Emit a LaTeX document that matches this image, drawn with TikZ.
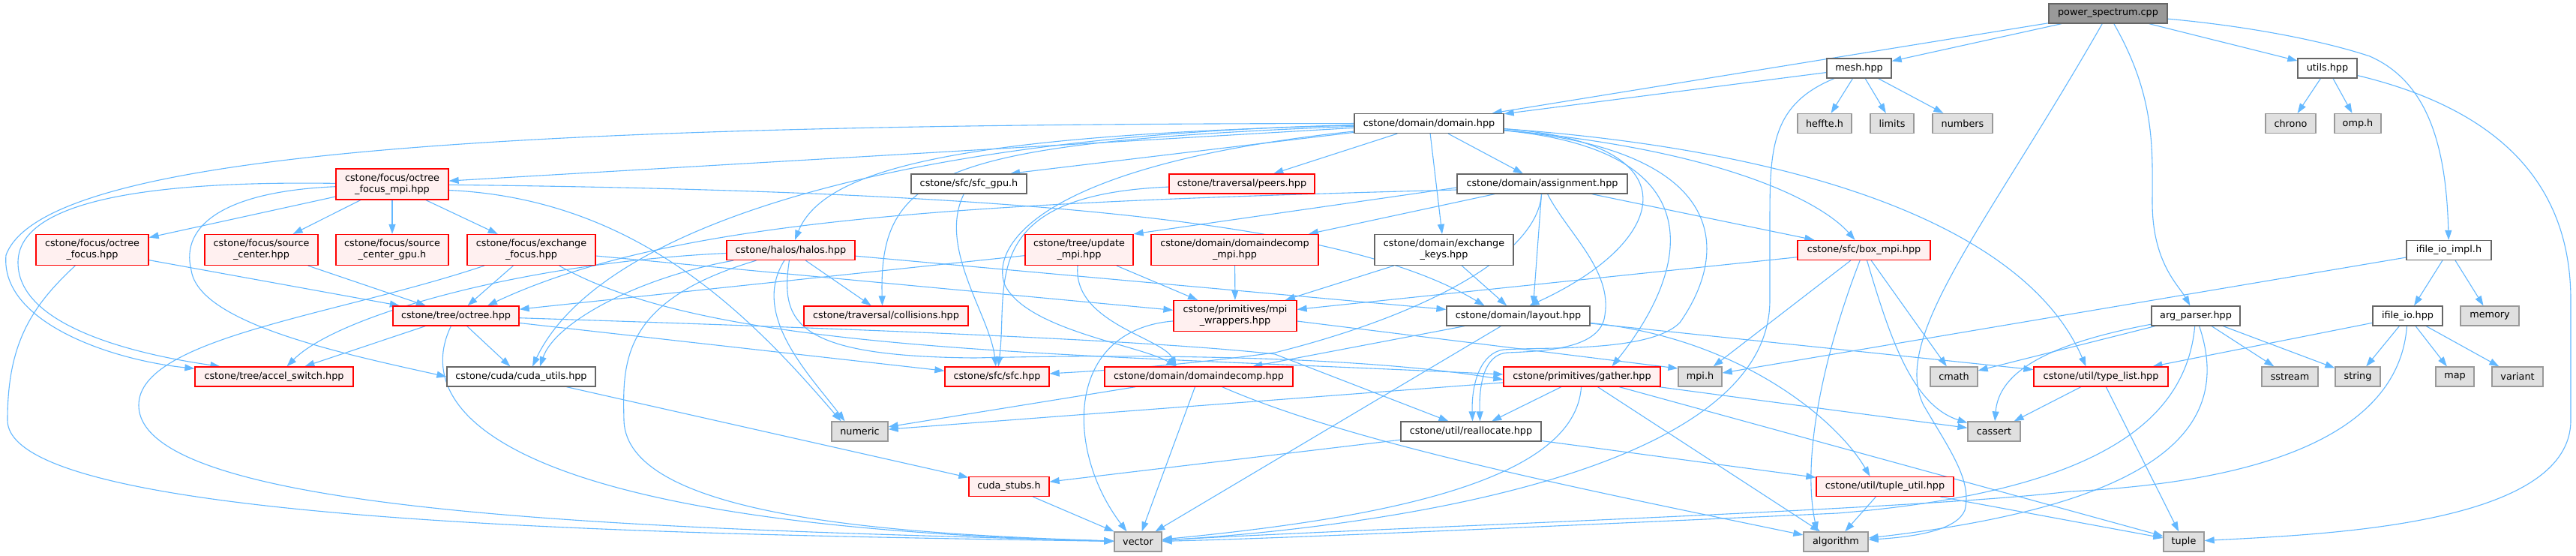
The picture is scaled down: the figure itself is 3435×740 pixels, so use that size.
\documentclass[tikz,border=0pt]{standalone}
\usepackage{fontspec}
\setmainfont{DejaVu Sans}
\usetikzlibrary{arrows.meta}
\definecolor{edgeblue}{HTML}{63B8FF}
\definecolor{redline}{HTML}{FF0000}
\definecolor{redfill}{HTML}{FFF0F0}
\definecolor{boxline}{HTML}{666666}
\definecolor{sysline}{HTML}{999999}
\definecolor{sysfill}{HTML}{E0E0E0}
\definecolor{rootfill}{HTML}{999999}
\newcommand\dxfont{\fontsize{12.8}{15}\selectfont}
\pgfdeclarelayer{bg}
\pgfdeclarelayer{edges}
\pgfsetlayers{bg,edges,main}
\tikzset{
  nd/.style={rectangle, inner sep=0pt, minimum height=26pt, align=center, font=\dxfont, line width=1.3pt},
  rb/.style={nd, draw=redline, fill=redfill},
  wb/.style={nd, draw=boxline, fill=white},
  gb/.style={nd, draw=sysline, fill=sysfill},
  rt/.style={nd, draw=boxline, fill=rootfill},
  tall/.style={minimum height=41pt},
  edg/.style={draw=edgeblue, line width=1.1pt, -{Triangle[length=13pt,width=9pt]}},
}
\begin{document}
\begin{tikzpicture}[x=1pt,y=-1pt]
\useasboundingbox (0,0) rectangle (3435,740);
\begin{pgfonlayer}{bg}
\fill[white] (0,0) rectangle (3435,740);
\end{pgfonlayer}
% ---------- nodes ----------
\node[rt, minimum width=158pt] (ps) at (2811,18) {power\_spectrum.cpp};
\node[wb, minimum width=86pt] (mesh) at (2479,91) {mesh.hpp};
\node[wb, minimum width=79pt] (utils) at (3103.5,91) {utils.hpp};
\node[wb, minimum width=199pt] (domain) at (1905.5,164.5) {cstone/domain/domain.hpp};
\node[gb, minimum width=72pt] (heffte) at (2433,164.5) {heffte.h};
\node[gb, minimum width=58pt] (limits) at (2523,164.5) {limits};
\node[gb, minimum width=80pt] (numbers) at (2617,164.5) {numbers};
\node[gb, minimum width=67pt] (chrono) at (3054.5,164.5) {chrono};
\node[gb, minimum width=62pt] (omph) at (3144,164.5) {omp.h};
\node[rb, tall, minimum width=150pt] (ofmpi) at (523,245.5) {cstone/focus/octree\\\_focus\_mpi.hpp};
\node[wb, minimum width=154pt] (sfcgpu) at (1292,245) {cstone/sfc/sfc\_gpu.h};
\node[rb, minimum width=194pt] (peers) at (1656,245) {cstone/traversal/peers.hpp};
\node[wb, minimum width=227pt] (assign) at (2056.5,245) {cstone/domain/assignment.hpp};
\node[rb, tall, minimum width=150pt] (ofocus) at (123,333) {cstone/focus/octree\\\_focus.hpp};
\node[rb, tall, minimum width=151pt] (srccenter) at (348.5,333) {cstone/focus/source\\\_center.hpp};
\node[rb, tall, minimum width=150pt] (srcgpu) at (523,333) {cstone/focus/source\\\_center\_gpu.h};
\node[rb, tall, minimum width=171pt] (exfocus) at (708.5,333) {cstone/focus/exchange\\\_focus.hpp};
\node[rb, minimum width=171pt] (halos) at (1054.5,333.5) {cstone/halos/halos.hpp};
\node[rb, tall, minimum width=144pt] (update) at (1439,333) {cstone/tree/update\\\_mpi.hpp};
\node[rb, tall, minimum width=223pt] (ddmpi) at (1646.5,333) {cstone/domain/domaindecomp\\\_mpi.hpp};
\node[wb, tall, minimum width=185pt] (exkeys) at (1925.5,333) {cstone/domain/exchange\\\_keys.hpp};
\node[rb, minimum width=177pt] (boxmpi) at (2485.5,333.5) {cstone/sfc/box\_mpi.hpp};
\node[wb, minimum width=113pt] (ifimpl) at (3265.5,333.5) {ifile\_io\_impl.h};
\node[rb, minimum width=168pt] (octree) at (608,421) {cstone/tree/octree.hpp};
\node[rb, minimum width=219pt] (collisions) at (1181.5,421) {cstone/traversal/collisions.hpp};
\node[rb, tall, minimum width=164pt] (mpiwrap) at (1647,421) {cstone/primitives/mpi\\\_wrappers.hpp};
\node[wb, minimum width=191pt] (layout) at (2024.5,421) {cstone/domain/layout.hpp};
\node[wb, minimum width=118pt] (argp) at (2928,421) {arg\_parser.hpp};
\node[wb, minimum width=93pt] (ifio) at (3210.5,421) {ifile\_io.hpp};
\node[gb, minimum width=78pt] (memory) at (3320,421) {memory};
\node[rb, minimum width=211pt] (accel) at (365.5,502) {cstone/tree/accel\_switch.hpp};
\node[wb, minimum width=198pt] (cudautils) at (695,502) {cstone/cuda/cuda\_utils.hpp};
\node[rb, minimum width=139pt] (sfc) at (1329.5,502) {cstone/sfc/sfc.hpp};
\node[rb, minimum width=251pt] (ddomp) at (1598.5,502) {cstone/domain/domaindecomp.hpp};
\node[rb, minimum width=209pt] (gather) at (2109.5,502) {cstone/primitives/gather.hpp};
\node[gb, minimum width=58pt] (mpih) at (2267,502) {mpi.h};
\node[gb, minimum width=63pt] (cmath) at (2605.5,502) {cmath};
\node[rb, minimum width=179pt] (typelist) at (2801.5,502) {cstone/util/type\_list.hpp};
\node[gb, minimum width=75pt] (sstream) at (3053.5,502) {sstream};
\node[gb, minimum width=60pt] (string) at (3144,502) {string};
\node[gb, minimum width=51pt] (map) at (3273.5,502) {map};
\node[gb, minimum width=68pt] (variant) at (3357,502) {variant};
\node[gb, minimum width=75pt] (numeric) at (1146.5,575) {numeric};
\node[wb, minimum width=187pt] (realloc) at (1961.5,575) {cstone/util/reallocate.hpp};
\node[gb, minimum width=70pt] (cassert) at (2659,575) {cassert};
\node[rb, minimum width=107pt] (cudastubs) at (1345.5,648.5) {cuda\_stubs.h};
\node[rb, minimum width=183pt] (tupleutil) at (2513.5,648.5) {cstone/util/tuple\_util.hpp};
\node[gb, minimum width=63pt] (vector) at (1517.5,722) {vector};
\node[gb, minimum width=86pt] (algorithm) at (2448,722) {algorithm};
\node[gb, minimum width=54pt] (tuple) at (2912,722) {tuple};
% ---------- edges ----------
\begin{pgfonlayer}{edges}
% root
\draw[edg] (ps) -- (domain);
\draw[edg] (ps) -- (mesh);
\draw[edg] (ps) -- (utils);
\draw[edg] (ps) .. controls (2875,130) and (2870,200) .. (2870,270) .. controls (2870,350) and (2905,380) .. (argp);
\draw[edg] (ps) .. controls (2650,300) and (2520,450) .. (2565,540) .. controls (2600,600) and (2630,640) .. (2620,680) .. controls (2610,705) and (2560,715) .. (algorithm);
\draw[edg] (ps) .. controls (3000,35) and (3100,55) .. (3160,75) .. controls (3240,110) and (3262,200) .. (ifimpl);
% mesh
\draw[edg] (mesh) -- (domain);
\draw[edg] (mesh) -- (heffte);
\draw[edg] (mesh) -- (limits);
\draw[edg] (mesh) -- (numbers);
\draw[edg] (mesh) .. controls (2360,140) and (2360,200) .. (2360,300) -- (2360,400) .. controls (2360,640) and (1800,705) .. (vector);
% utils
\draw[edg] (utils) -- (chrono);
\draw[edg] (utils) -- (omph);
\draw[edg] (utils) .. controls (3350,150) and (3428,260) .. (3428,400) -- (3428,560) .. controls (3428,700) and (3100,712) .. (tuple);
% ifile io
\draw[edg] (ifimpl) -- (ifio);
\draw[edg] (ifimpl) -- (memory);
\draw[edg] (ifimpl) -- (mpih);
\draw[edg] (ifio) -- (typelist);
\draw[edg] (ifio) -- (string);
\draw[edg] (ifio) -- (map);
\draw[edg] (ifio) -- (variant);
\draw[edg] (ifio) .. controls (3200,560) and (3060,640) .. (2760,655) .. controls (2550,680) and (1800,705) .. (vector);
% arg parser
\draw[edg] (argp) -- (cmath);
\draw[edg] (argp) .. controls (2720,460) and (2665,500) .. (cassert);
\draw[edg] (argp) -- (sstream);
\draw[edg] (argp) -- (string);
\draw[edg] (argp) .. controls (2915,560) and (2800,655) .. (2450,684) .. controls (2100,700) and (1700,718) .. (vector);
\draw[edg] (argp) .. controls (2975,560) and (2900,670) .. (algorithm);
% domain
\draw[edg] (domain) -- (ofmpi);
\draw[edg] (domain) .. controls (1300,180) and (1100,220) .. (halos);
\draw[edg] (domain) -- ([xshift=55pt]sfcgpu.north);
\draw[edg] (domain) -- (peers);
\draw[edg] (domain) -- (assign);
\draw[edg] (domain) -- (exkeys);
\draw[edg] (domain) .. controls (2300,200) and (2430,270) .. (boxmpi);
\draw[edg] (domain) .. controls (2260,190) and (2230,320) .. ([xshift=15pt]layout.north);
\draw[edg] (domain) .. controls (2280,200) and (2260,350) .. ([xshift=40pt]gather.north);
\draw[edg] (domain) .. controls (2300,200) and (2310,330) .. (2240,430) .. controls (2200,470) and (2060,462) .. (2005,466) .. controls (1975,470) and (1962,510) .. ([xshift=2pt]realloc.north);
\draw[edg] (domain) .. controls (1380,220) and (1320,330) .. (1340,380) .. controls (1370,440) and (1520,460) .. ([xshift=-30pt]ddomp.north);
\draw[edg] (domain) .. controls (1200,180) and (800,300) .. ([xshift=15pt]cudautils.north);
\draw[edg] (domain) .. controls (1250,190) and (1172,230) .. ([xshift=-5pt]collisions.north);
\draw[edg] (domain) .. controls (700,165) and (60,200) .. (8,340) .. controls (0,430) and (150,480) .. (accel);
\draw[edg] (domain) .. controls (2400,200) and (2700,300) .. ([xshift=-20pt]typelist.north);
% octree focus mpi
\draw[edg] (ofmpi) -- (ofocus);
\draw[edg] (ofmpi) -- (srccenter);
\draw[edg] (ofmpi) -- (srcgpu);
\draw[edg] (ofmpi) -- (exfocus);
\draw[edg] (ofmpi) .. controls (150,240) and (24,280) .. (24,350) .. controls (24,440) and (200,475) .. ([xshift=-72pt]accel.north);
\draw[edg] (ofmpi) .. controls (300,255) and (240,300) .. (255,360) .. controls (265,430) and (450,470) .. (cudautils.west);
\draw[edg] (ofmpi) .. controls (1400,255) and (1800,300) .. ([xshift=-45pt]layout.north);
\draw[edg] ([yshift=-8pt]ofmpi.east) .. controls (850,265) and (1000,420) .. ([xshift=-25pt]numeric.north);
% focus headers
\draw[edg] (ofocus) -- (octree);
\draw[edg] (ofocus) .. controls (40,410) and (10,460) .. (10,560) .. controls (10,700) and (900,712) .. (vector);
\draw[edg] (srccenter) -- (octree);
\draw[edg] (exfocus) -- (octree);
\draw[edg] (exfocus) -- (mpiwrap);
\draw[edg] (exfocus) .. controls (950,470) and (1400,470) .. ([yshift=3pt]gather.west);
\draw[edg] (exfocus) .. controls (450,420) and (185,450) .. (185,540) .. controls (185,690) and (900,705) .. (vector);
% halos
\draw[edg] (halos) .. controls (700,350) and (450,420) .. ([xshift=17pt]accel.north);
\draw[edg] (halos) .. controls (850,370) and (740,430) .. ([xshift=25pt]cudautils.north);
\draw[edg] (halos) .. controls (1000,420) and (1080,500) .. ([xshift=-20pt]numeric.north);
\draw[edg] (halos) .. controls (1040,430) and (1060,475) .. (1300,477) .. controls (1600,470) and (1850,480) .. ([yshift=-4pt]gather.west);
\draw[edg] (halos) -- (collisions);
\draw[edg] (halos) -- (layout);
\draw[edg] (halos) .. controls (830,400) and (830,480) .. (832,560) .. controls (835,690) and (1200,712) .. (vector);
% sfc related
\draw[edg] (sfcgpu) .. controls (1250,330) and (1320,420) .. (sfc);
\draw[edg] (peers) .. controls (1300,260) and (1345,380) .. (sfc);
% update
\draw[edg] (update) -- (octree);
\draw[edg] (update) -- (mpiwrap);
\draw[edg] (update) .. controls (1430,430) and (1550,450) .. ([xshift=-30pt]ddomp.north);
\draw[edg] (ddmpi) -- (mpiwrap);
% assignment
\draw[edg] (assign) -- (boxmpi);
\draw[edg] (assign) -- (ddmpi);
\draw[edg] ([yshift=-5pt]assign.west) -- (update.north east);
\draw[edg] ([yshift=-8pt]assign.west) .. controls (1300,270) and (900,290) .. ([xshift=42pt]octree.north);
\draw[edg] (assign) -- ([xshift=20pt]layout.north);
\draw[edg] (assign) .. controls (2090,310) and (2150,360) .. (2140,420) .. controls (2135,465) and (2060,468) .. (2010,470) .. controls (1980,472) and (1972,510) .. ([xshift=12pt]realloc.north);
\draw[edg] (assign) .. controls (2050,340) and (1900,420) .. (1700,470) .. controls (1550,490) and (1450,495) .. (sfc);
% exchange keys
\draw[edg] (exkeys) -- (mpiwrap);
\draw[edg] (exkeys) -- (layout);
% box mpi
\draw[edg] (boxmpi) -- (mpiwrap);
\draw[edg] (boxmpi) -- (mpih);
\draw[edg] (boxmpi) -- (cmath);
\draw[edg] (boxmpi) .. controls (2520,450) and (2550,540) .. (cassert);
\draw[edg] (boxmpi) .. controls (2440,450) and (2400,600) .. ([xshift=-25pt]algorithm.north);
% octree
\draw[edg] (octree) -- (accel);
\draw[edg] (octree) -- (cudautils);
\draw[edg] (octree) -- (sfc);
\draw[edg] (octree) .. controls (1200,440) and (1550,455) .. (1700,472) -- ([xshift=-30pt]realloc.north);
\draw[edg] (octree) .. controls (555,530) and (620,700) .. (vector);
% mpi wrappers
\draw[edg] (mpiwrap) .. controls (1420,440) and (1420,600) .. ([xshift=-15pt]vector.north);
\draw[edg] ([yshift=-7pt]mpiwrap.east) -- ([yshift=11pt]mpih.west);
% layout
\draw[edg] (layout) -- (ddomp);
\draw[edg] (layout) -- (vector);
\draw[edg] (layout) -- (typelist);
\draw[edg] (layout) .. controls (2320,450) and (2450,560) .. ([xshift=-20pt]tupleutil.north);
% gather
\draw[edg] (gather) -- (numeric);
\draw[edg] (gather) -- (realloc);
\draw[edg] (gather) .. controls (2100,640) and (1850,690) .. (vector);
\draw[edg] (gather) -- (algorithm);
\draw[edg] (gather) -- (tuple);
\draw[edg] (gather) -- (cassert);
% domaindecomp
\draw[edg] (ddomp) -- (numeric);
\draw[edg] (ddomp) -- (vector);
\draw[edg] (ddomp) .. controls (1800,590) and (2100,650) .. (algorithm);
% small utilities
\draw[edg] (realloc) -- (cudastubs);
\draw[edg] (realloc) -- (tupleutil);
\draw[edg] (cudautils) -- (cudastubs);
\draw[edg] (cudastubs) -- (vector);
\draw[edg] (typelist) -- (cassert);
\draw[edg] (typelist) -- (tuple);
\draw[edg] (tupleutil) -- (algorithm);
\draw[edg] (tupleutil) -- (tuple);
\end{pgfonlayer}
\end{tikzpicture}
\end{document}
